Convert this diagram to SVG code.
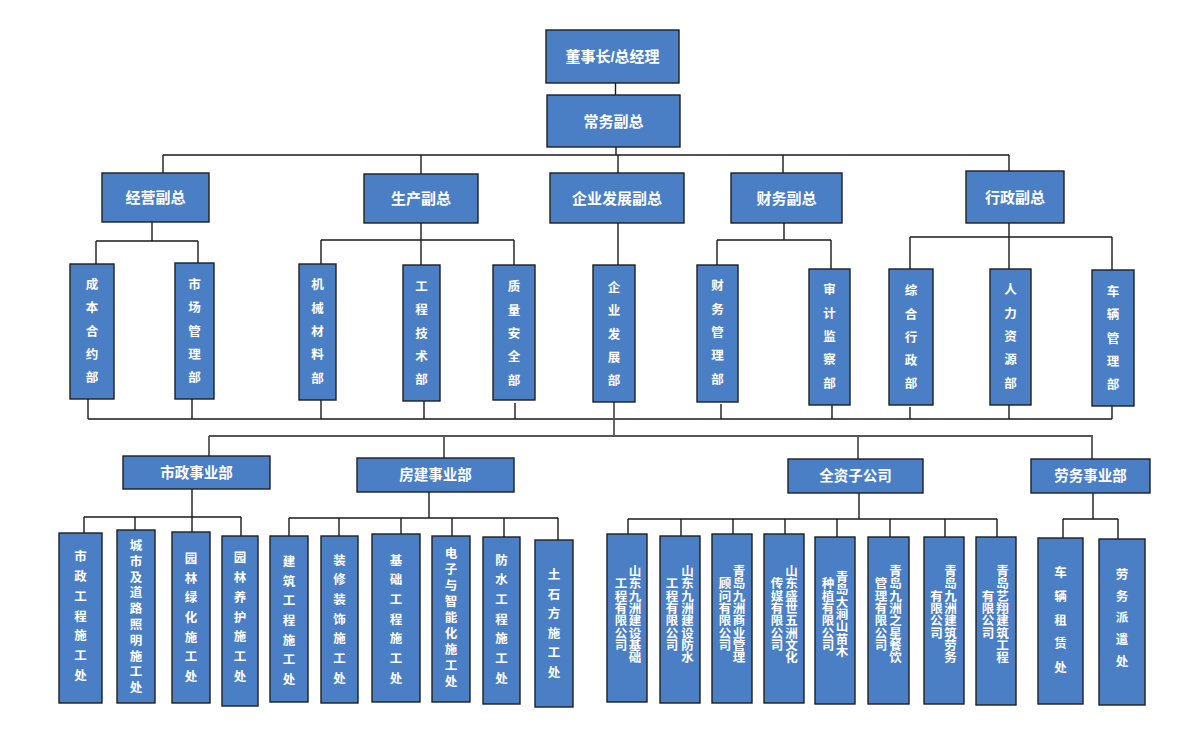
<svg xmlns="http://www.w3.org/2000/svg" width="1200" height="743" viewBox="0 0 1200 743">
<style>
.b{fill:#4a7fc5;stroke:#1e1e1e;stroke-width:1.4}
.t{font-family:"Liberation Sans","Noto Sans CJK SC",sans-serif;font-weight:bold;fill:#fff;text-anchor:middle;dominant-baseline:central}
.h{font-size:15px}
.m{font-size:14.5px}
.v{font-size:12.5px}
.s{font-size:12.5px}
.c{fill:none;stroke:#1a1a1a;stroke-width:1.4}
.g{fill:none;stroke:#555;stroke-width:1.8}
</style>
<rect width="1200" height="743" fill="#fff"/>
<g id="connectors">
<path class="c" d="M615.5,83V95M616,147V155M163,155H1009M163,155V173M421,155V174M618,155V173M783,155V173M1009,155V171"/>
<path class="c" d="M152,222V241M96,241H198M96,241V264M198,241V263"/>
<path class="c" d="M421,223V240M321,240H514M321,240V264M421,240V265M514,240V265"/>
<path class="c" d="M618,223V265"/>
<path class="c" d="M784,223V240M717,240H831M717,240V265M831,240V269"/>
<path class="c" d="M1009,222V237M910,237H1112M910,237V269M1009,237V269M1112,237V270"/>
<path class="c" d="M88,419H1112M88,399V419M192,399V419M321,400V419M424,401V419M515,403V419M721,404V419M832,405V419M910,407V419M1009,405V419M1112,406V419"/>
<path class="g" d="M614,402V436M209,436H1093M209,436V456M444,436V458M858,436V459M1092,436V459"/>
<path class="c" d="M192,489V517M84,517H241M84,517V533M135,517V530M192,517V532M241,517V536"/>
<path class="c" d="M429,492V518M289,518H558M289,518V536M339,518V536M401,518V534M452,518V536M504,518V537M558,518V540"/>
<path class="c" d="M859,493V519M628,519H997M628,519V534M681,519V536M733,519V534M785,519V534M837,519V537M890,519V537M945,519V537M997,519V537"/>
<path class="c" d="M1093,493V519M1063,519H1118M1063,519V538M1118,519V539"/>
</g>
<g id="n-chairman"><rect class="b" x="546" y="30" width="133" height="53"/><text class="t h" x="612.5" y="56.5">董事长/总经理</text></g>
<g id="n-evp"><rect class="b" x="547" y="95" width="133" height="52"/><text class="t h" x="613.5" y="121">常务副总</text></g>
<g id="n-vp-business"><rect class="b" x="102" y="173" width="107" height="49"/><text class="t h" x="155.5" y="197.5">经营副总</text></g>
<g id="n-vp-production"><rect class="b" x="364" y="174" width="114" height="49"/><text class="t h" x="421" y="198.5">生产副总</text></g>
<g id="n-vp-development"><rect class="b" x="550" y="173" width="134" height="50"/><text class="t h" x="617" y="198">企业发展副总</text></g>
<g id="n-vp-finance"><rect class="b" x="731" y="173" width="111" height="50"/><text class="t h" x="786.5" y="198">财务副总</text></g>
<g id="n-vp-admin"><rect class="b" x="966" y="171" width="98" height="52"/><text class="t h" x="1015" y="197">行政副总</text></g>

<g id="d-cost"><rect class="b" x="70" y="264" width="44" height="135"/><text class="t v"><tspan x="92" y="285.1">成</tspan><tspan x="92" y="308.4">本</tspan><tspan x="92" y="331.7">合</tspan><tspan x="92" y="355">约</tspan><tspan x="92" y="378.3">部</tspan></text></g>
<g id="d-market"><rect class="b" x="175" y="263" width="39" height="136"/><text class="t v"><tspan x="194.5" y="285.1">市</tspan><tspan x="194.5" y="308.4">场</tspan><tspan x="194.5" y="331.7">管</tspan><tspan x="194.5" y="355">理</tspan><tspan x="194.5" y="378.3">部</tspan></text></g>
<g id="d-machinery"><rect class="b" x="299" y="264" width="37" height="136"/><text class="t v"><tspan x="317.5" y="285.4">机</tspan><tspan x="317.5" y="308.7">械</tspan><tspan x="317.5" y="332">材</tspan><tspan x="317.5" y="355.3">料</tspan><tspan x="317.5" y="378.6">部</tspan></text></g>
<g id="d-engineering"><rect class="b" x="403" y="265" width="37" height="136"/><text class="t v"><tspan x="421.5" y="287.1">工</tspan><tspan x="421.5" y="310.4">程</tspan><tspan x="421.5" y="333.7">技</tspan><tspan x="421.5" y="357">术</tspan><tspan x="421.5" y="380.3">部</tspan></text></g>
<g id="d-quality"><rect class="b" x="493" y="265" width="42" height="135"/><text class="t v"><tspan x="514" y="287.4">质</tspan><tspan x="514" y="310.7">量</tspan><tspan x="514" y="334">安</tspan><tspan x="514" y="357.3">全</tspan><tspan x="514" y="380.6">部</tspan></text></g>
<g id="d-development"><rect class="b" x="593" y="265" width="42" height="137"/><text class="t v"><tspan x="614" y="287.9">企</tspan><tspan x="614" y="311.2">业</tspan><tspan x="614" y="334.5">发</tspan><tspan x="614" y="357.8">展</tspan><tspan x="614" y="381.1">部</tspan></text></g>
<g id="d-finance"><rect class="b" x="697" y="265" width="41" height="137"/><text class="t v"><tspan x="717.5" y="286.4">财</tspan><tspan x="717.5" y="309.7">务</tspan><tspan x="717.5" y="333">管</tspan><tspan x="717.5" y="356.3">理</tspan><tspan x="717.5" y="379.6">部</tspan></text></g>
<g id="d-audit"><rect class="b" x="809" y="269" width="41" height="136"/><text class="t v"><tspan x="829.5" y="290.4">审</tspan><tspan x="829.5" y="313.7">计</tspan><tspan x="829.5" y="337">监</tspan><tspan x="829.5" y="360.3">察</tspan><tspan x="829.5" y="383.6">部</tspan></text></g>
<g id="d-general"><rect class="b" x="889" y="269" width="44" height="136"/><text class="t v"><tspan x="911" y="291.2">综</tspan><tspan x="911" y="314.5">合</tspan><tspan x="911" y="337.8">行</tspan><tspan x="911" y="361.1">政</tspan><tspan x="911" y="384.4">部</tspan></text></g>
<g id="d-hr"><rect class="b" x="990" y="269" width="41" height="136"/><text class="t v"><tspan x="1010.5" y="290.4">人</tspan><tspan x="1010.5" y="313.7">力</tspan><tspan x="1010.5" y="337">资</tspan><tspan x="1010.5" y="360.3">源</tspan><tspan x="1010.5" y="383.6">部</tspan></text></g>
<g id="d-vehicle"><rect class="b" x="1092" y="270" width="42" height="136"/><text class="t v"><tspan x="1113" y="291.9">车</tspan><tspan x="1113" y="315.2">辆</tspan><tspan x="1113" y="338.5">管</tspan><tspan x="1113" y="361.8">理</tspan><tspan x="1113" y="385.1">部</tspan></text></g>

<g id="u-municipal"><rect class="b" x="123" y="456" width="147" height="33"/><text class="t m" x="196.5" y="472.5">市政事业部</text></g>
<g id="u-housing"><rect class="b" x="357" y="458" width="157" height="34"/><text class="t m" x="435.5" y="475">房建事业部</text></g>
<g id="u-subsidiaries"><rect class="b" x="788" y="459" width="135" height="34"/><text class="t m" x="855.5" y="476">全资子公司</text></g>
<g id="u-labor"><rect class="b" x="1031" y="459" width="119" height="34"/><text class="t m" x="1090.5" y="476">劳务事业部</text></g>

<g id="p-municipal-eng"><rect class="b" x="59" y="533" width="43" height="170"/><text class="t v"><tspan x="80.5" y="557.4">市</tspan><tspan x="80.5" y="577.1">政</tspan><tspan x="80.5" y="596.8">工</tspan><tspan x="80.5" y="616.5">程</tspan><tspan x="80.5" y="636.2">施</tspan><tspan x="80.5" y="655.9">工</tspan><tspan x="80.5" y="675.6">处</tspan></text></g>
<g id="p-road-lighting"><rect class="b" x="117" y="530" width="38" height="173"/><text class="t v"><tspan x="136" y="545.9">城</tspan><tspan x="136" y="561.7">市</tspan><tspan x="136" y="577.5">及</tspan><tspan x="136" y="593.3">道</tspan><tspan x="136" y="609.1">路</tspan><tspan x="136" y="624.9">照</tspan><tspan x="136" y="640.7">明</tspan><tspan x="136" y="656.5">施</tspan><tspan x="136" y="672.3">工</tspan><tspan x="136" y="688.1">处</tspan></text></g>
<g id="p-greening"><rect class="b" x="172" y="532" width="38" height="171"/><text class="t v"><tspan x="191" y="558.9">园</tspan><tspan x="191" y="578.6">林</tspan><tspan x="191" y="598.3">绿</tspan><tspan x="191" y="618">化</tspan><tspan x="191" y="637.7">施</tspan><tspan x="191" y="657.4">工</tspan><tspan x="191" y="677.1">处</tspan></text></g>
<g id="p-maintenance"><rect class="b" x="222" y="536" width="36" height="170"/><text class="t v"><tspan x="240" y="558.4">园</tspan><tspan x="240" y="578.1">林</tspan><tspan x="240" y="597.8">养</tspan><tspan x="240" y="617.5">护</tspan><tspan x="240" y="637.2">施</tspan><tspan x="240" y="656.9">工</tspan><tspan x="240" y="676.6">处</tspan></text></g>
<g id="p-building"><rect class="b" x="270" y="536" width="38" height="166"/><text class="t v"><tspan x="289" y="561.9">建</tspan><tspan x="289" y="581.6">筑</tspan><tspan x="289" y="601.3">工</tspan><tspan x="289" y="621">程</tspan><tspan x="289" y="640.7">施</tspan><tspan x="289" y="660.4">工</tspan><tspan x="289" y="680.1">处</tspan></text></g>
<g id="p-decoration"><rect class="b" x="321" y="536" width="37" height="167"/><text class="t v"><tspan x="339.5" y="560.6">装</tspan><tspan x="339.5" y="580.3">修</tspan><tspan x="339.5" y="600">装</tspan><tspan x="339.5" y="619.7">饰</tspan><tspan x="339.5" y="639.4">施</tspan><tspan x="339.5" y="659.1">工</tspan><tspan x="339.5" y="678.8">处</tspan></text></g>
<g id="p-foundation"><rect class="b" x="372" y="534" width="48" height="168"/><text class="t v"><tspan x="396" y="560.6">基</tspan><tspan x="396" y="580.3">础</tspan><tspan x="396" y="600">工</tspan><tspan x="396" y="619.7">程</tspan><tspan x="396" y="639.4">施</tspan><tspan x="396" y="659.1">工</tspan><tspan x="396" y="678.8">处</tspan></text></g>
<g id="p-electronic"><rect class="b" x="432" y="536" width="38" height="166"/><text class="t v"><tspan x="451" y="553.5">电</tspan><tspan x="451" y="569.5">子</tspan><tspan x="451" y="585.5">与</tspan><tspan x="451" y="601.5">智</tspan><tspan x="451" y="617.5">能</tspan><tspan x="451" y="633.5">化</tspan><tspan x="451" y="649.5">施</tspan><tspan x="451" y="665.5">工</tspan><tspan x="451" y="681.5">处</tspan></text></g>
<g id="p-waterproof"><rect class="b" x="483" y="537" width="37" height="167"/><text class="t v"><tspan x="501.5" y="560.6">防</tspan><tspan x="501.5" y="580.3">水</tspan><tspan x="501.5" y="600">工</tspan><tspan x="501.5" y="619.7">程</tspan><tspan x="501.5" y="639.4">施</tspan><tspan x="501.5" y="659.1">工</tspan><tspan x="501.5" y="678.8">处</tspan></text></g>
<g id="p-earthwork"><rect class="b" x="535" y="540" width="38" height="167"/><text class="t v"><tspan x="554" y="575.3">土</tspan><tspan x="554" y="594.8">石</tspan><tspan x="554" y="614.3">方</tspan><tspan x="554" y="633.8">施</tspan><tspan x="554" y="653.3">工</tspan><tspan x="554" y="672.8">处</tspan></text></g>

<g id="s-1"><rect class="b" x="607" y="534" width="40" height="168"/><text class="t s"><tspan x="635" y="572">山</tspan><tspan x="635" y="584.3">东</tspan><tspan x="635" y="596.6">九</tspan><tspan x="635" y="608.9">洲</tspan><tspan x="635" y="621.2">建</tspan><tspan x="635" y="633.5">设</tspan><tspan x="635" y="645.8">基</tspan><tspan x="635" y="658.1">础</tspan><tspan x="621" y="584.3">工</tspan><tspan x="621" y="596.6">程</tspan><tspan x="621" y="608.9">有</tspan><tspan x="621" y="621.2">限</tspan><tspan x="621" y="633.5">公</tspan><tspan x="621" y="645.8">司</tspan></text></g>
<g id="s-2"><rect class="b" x="660" y="536" width="40" height="167"/><text class="t s"><tspan x="687.5" y="572">山</tspan><tspan x="687.5" y="584.3">东</tspan><tspan x="687.5" y="596.6">九</tspan><tspan x="687.5" y="608.9">洲</tspan><tspan x="687.5" y="621.2">建</tspan><tspan x="687.5" y="633.5">设</tspan><tspan x="687.5" y="645.8">防</tspan><tspan x="687.5" y="658.1">水</tspan><tspan x="672" y="584.3">工</tspan><tspan x="672" y="596.6">程</tspan><tspan x="672" y="608.9">有</tspan><tspan x="672" y="621.2">限</tspan><tspan x="672" y="633.5">公</tspan><tspan x="672" y="645.8">司</tspan></text></g>
<g id="s-3"><rect class="b" x="712" y="534" width="40" height="169"/><text class="t s"><tspan x="739" y="572">青</tspan><tspan x="739" y="584.3">岛</tspan><tspan x="739" y="596.6">九</tspan><tspan x="739" y="608.9">洲</tspan><tspan x="739" y="621.2">商</tspan><tspan x="739" y="633.5">业</tspan><tspan x="739" y="645.8">管</tspan><tspan x="739" y="658.1">理</tspan><tspan x="725" y="584.3">顾</tspan><tspan x="725" y="596.6">问</tspan><tspan x="725" y="608.9">有</tspan><tspan x="725" y="621.2">限</tspan><tspan x="725" y="633.5">公</tspan><tspan x="725" y="645.8">司</tspan></text></g>
<g id="s-4"><rect class="b" x="764" y="534" width="40" height="169"/><text class="t s"><tspan x="791.5" y="572">山</tspan><tspan x="791.5" y="584.3">东</tspan><tspan x="791.5" y="596.6">盛</tspan><tspan x="791.5" y="608.9">世</tspan><tspan x="791.5" y="621.2">五</tspan><tspan x="791.5" y="633.5">洲</tspan><tspan x="791.5" y="645.8">文</tspan><tspan x="791.5" y="658.1">化</tspan><tspan x="777" y="584.3">传</tspan><tspan x="777" y="596.6">媒</tspan><tspan x="777" y="608.9">有</tspan><tspan x="777" y="621.2">限</tspan><tspan x="777" y="633.5">公</tspan><tspan x="777" y="645.8">司</tspan></text></g>
<g id="s-5"><rect class="b" x="815" y="537" width="40" height="167"/><text class="t s"><tspan x="842" y="578.1">青</tspan><tspan x="842" y="590.4">岛</tspan><tspan x="842" y="602.7">大</tspan><tspan x="842" y="615">涧</tspan><tspan x="842" y="627.3">山</tspan><tspan x="842" y="639.6">苗</tspan><tspan x="842" y="651.9">木</tspan><tspan x="828" y="584.3">种</tspan><tspan x="828" y="596.6">植</tspan><tspan x="828" y="608.9">有</tspan><tspan x="828" y="621.2">限</tspan><tspan x="828" y="633.5">公</tspan><tspan x="828" y="645.8">司</tspan></text></g>
<g id="s-6"><rect class="b" x="868" y="537" width="41" height="167"/><text class="t s"><tspan x="895.5" y="572">青</tspan><tspan x="895.5" y="584.3">岛</tspan><tspan x="895.5" y="596.6">九</tspan><tspan x="895.5" y="608.9">洲</tspan><tspan x="895.5" y="621.2">之</tspan><tspan x="895.5" y="633.5">星</tspan><tspan x="895.5" y="645.8">餐</tspan><tspan x="895.5" y="658.1">饮</tspan><tspan x="881" y="584.3">管</tspan><tspan x="881" y="596.6">理</tspan><tspan x="881" y="608.9">有</tspan><tspan x="881" y="621.2">限</tspan><tspan x="881" y="633.5">公</tspan><tspan x="881" y="645.8">司</tspan></text></g>
<g id="s-7"><rect class="b" x="924" y="537" width="40" height="167"/><text class="t s"><tspan x="950.5" y="572">青</tspan><tspan x="950.5" y="584.3">岛</tspan><tspan x="950.5" y="596.6">九</tspan><tspan x="950.5" y="608.9">洲</tspan><tspan x="950.5" y="621.2">建</tspan><tspan x="950.5" y="633.5">筑</tspan><tspan x="950.5" y="645.8">劳</tspan><tspan x="950.5" y="658.1">务</tspan><tspan x="936.5" y="596.6">有</tspan><tspan x="936.5" y="608.9">限</tspan><tspan x="936.5" y="621.2">公</tspan><tspan x="936.5" y="633.5">司</tspan></text></g>
<g id="s-8"><rect class="b" x="976" y="537" width="40" height="168"/><text class="t s"><tspan x="1002.5" y="572">青</tspan><tspan x="1002.5" y="584.3">岛</tspan><tspan x="1002.5" y="596.6">艺</tspan><tspan x="1002.5" y="608.9">翔</tspan><tspan x="1002.5" y="621.2">建</tspan><tspan x="1002.5" y="633.5">筑</tspan><tspan x="1002.5" y="645.8">工</tspan><tspan x="1002.5" y="658.1">程</tspan><tspan x="988" y="596.6">有</tspan><tspan x="988" y="608.9">限</tspan><tspan x="988" y="621.2">公</tspan><tspan x="988" y="633.5">司</tspan></text></g>

<g id="l-rental"><rect class="b" x="1038" y="538" width="45" height="166"/><text class="t v"><tspan x="1060.5" y="573">车</tspan><tspan x="1060.5" y="596.8">辆</tspan><tspan x="1060.5" y="620.5">租</tspan><tspan x="1060.5" y="644.3">赁</tspan><tspan x="1060.5" y="668">处</tspan></text></g>
<g id="l-dispatch"><rect class="b" x="1099" y="539" width="46" height="166"/><text class="t v"><tspan x="1122" y="574.9">劳</tspan><tspan x="1122" y="596.6">务</tspan><tspan x="1122" y="618.3">派</tspan><tspan x="1122" y="640">遣</tspan><tspan x="1122" y="661.7">处</tspan></text></g>
</svg>
